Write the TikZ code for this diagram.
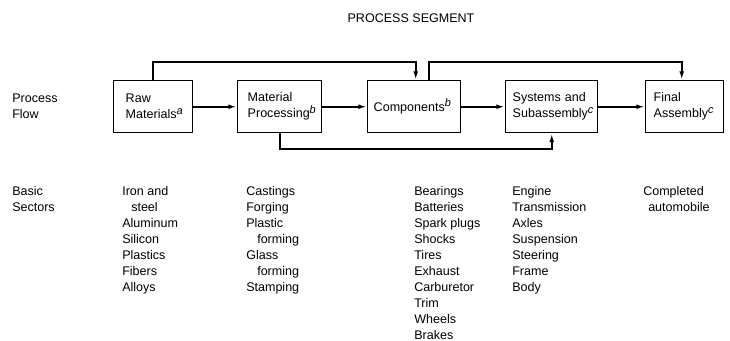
\documentclass[tikz,border=0pt]{standalone}
\usepackage{fontspec}
\setmainfont{Liberation Sans}
\usetikzlibrary{arrows.meta}
% raised italic footnote letter after a segment name
\newcommand\segnote[1]{\raisebox{3.6pt}{\fontsize{8.2pt}{8.2pt}\selectfont\itshape #1}}
\begin{document}
\begin{tikzpicture}[x=0.75pt,y=-0.75pt,
  every node/.style={font=\fontsize{9.4pt}{12pt}\selectfont, inner sep=0pt},
  box/.style={draw, line width=1.1pt, anchor=north west, minimum height=39pt, align=left},
  flow/.style={line width=1.3pt, -{Latex[length=6.5pt,width=3.6pt]}},
  list/.style={anchor=north west, align=left}]
\useasboundingbox (0,0) rectangle (730,341);

% heading
\node (title) at (411,18) {PROCESS SEGMENT};

% row labels
\node[list] (flowlabel) at (12,94) {Process\\Flow};
\node[list] (sectors) at (12,186) {Basic\\Sectors};

% process segments
\node[box, minimum width=59.25pt, text width=41.25pt] (raw) at (113,80) {Raw\\Materials\segnote{a}};
\node[box, minimum width=63pt, text width=48pt] (mat) at (237,80) {Material\\Processing\segnote{b}};
\node[box, minimum width=69.75pt, text width=60.75pt] (comp) at (367,80) {Components\segnote{b}};
\node[box, minimum width=69pt, text width=58.5pt] (sys) at (505,80) {Systems and\\Subassembly\segnote{c}};
\node[box, minimum width=58.5pt, text width=46.5pt] (final) at (645,80) {Final\\Assembly\segnote{c}};

% levels of the bypass lines
\coordinate (upper) at (0,62);
\coordinate (lower) at (0,149);

% main flow
\draw[flow] (raw) -- (mat);
\draw[flow] (mat) -- (comp);
\draw[flow] (comp) -- (sys);
\draw[flow] (sys) -- (final);

% bypass connections
\draw[flow] (raw.north) -- (raw.north |- upper) -| ([xshift=1.1pt]comp.north);
\draw[flow] ([xshift=10.9pt]comp.north) -- ([xshift=10.9pt]comp.north |- upper) -| ([xshift=-2.25pt]final.north);
\draw[flow] (mat.south) -- (mat.south |- lower) -| (sys.south);

% basic sectors
\node[list] (rawlist) at (122,186) {Iron and\\\hspace*{6.75pt}steel\\Aluminum\\Silicon\\Plastics\\Fibers\\Alloys};
\node[list] (matlist) at (246,186) {Castings\\Forging\\Plastic\\\hspace*{8.25pt}forming\\Glass\\\hspace*{8.25pt}forming\\Stamping};
\node[list] (complist) at (414,186) {Bearings\\Batteries\\Spark plugs\\Shocks\\Tires\\Exhaust\\Carburetor\\Trim\\Wheels\\Brakes};
\node[list] (syslist) at (512,186) {Engine\\Transmission\\Axles\\Suspension\\Steering\\Frame\\Body};
\node[list] (finallist) at (643,186) {Completed\\\hspace*{3.75pt}automobile};
\end{tikzpicture}
\end{document}
